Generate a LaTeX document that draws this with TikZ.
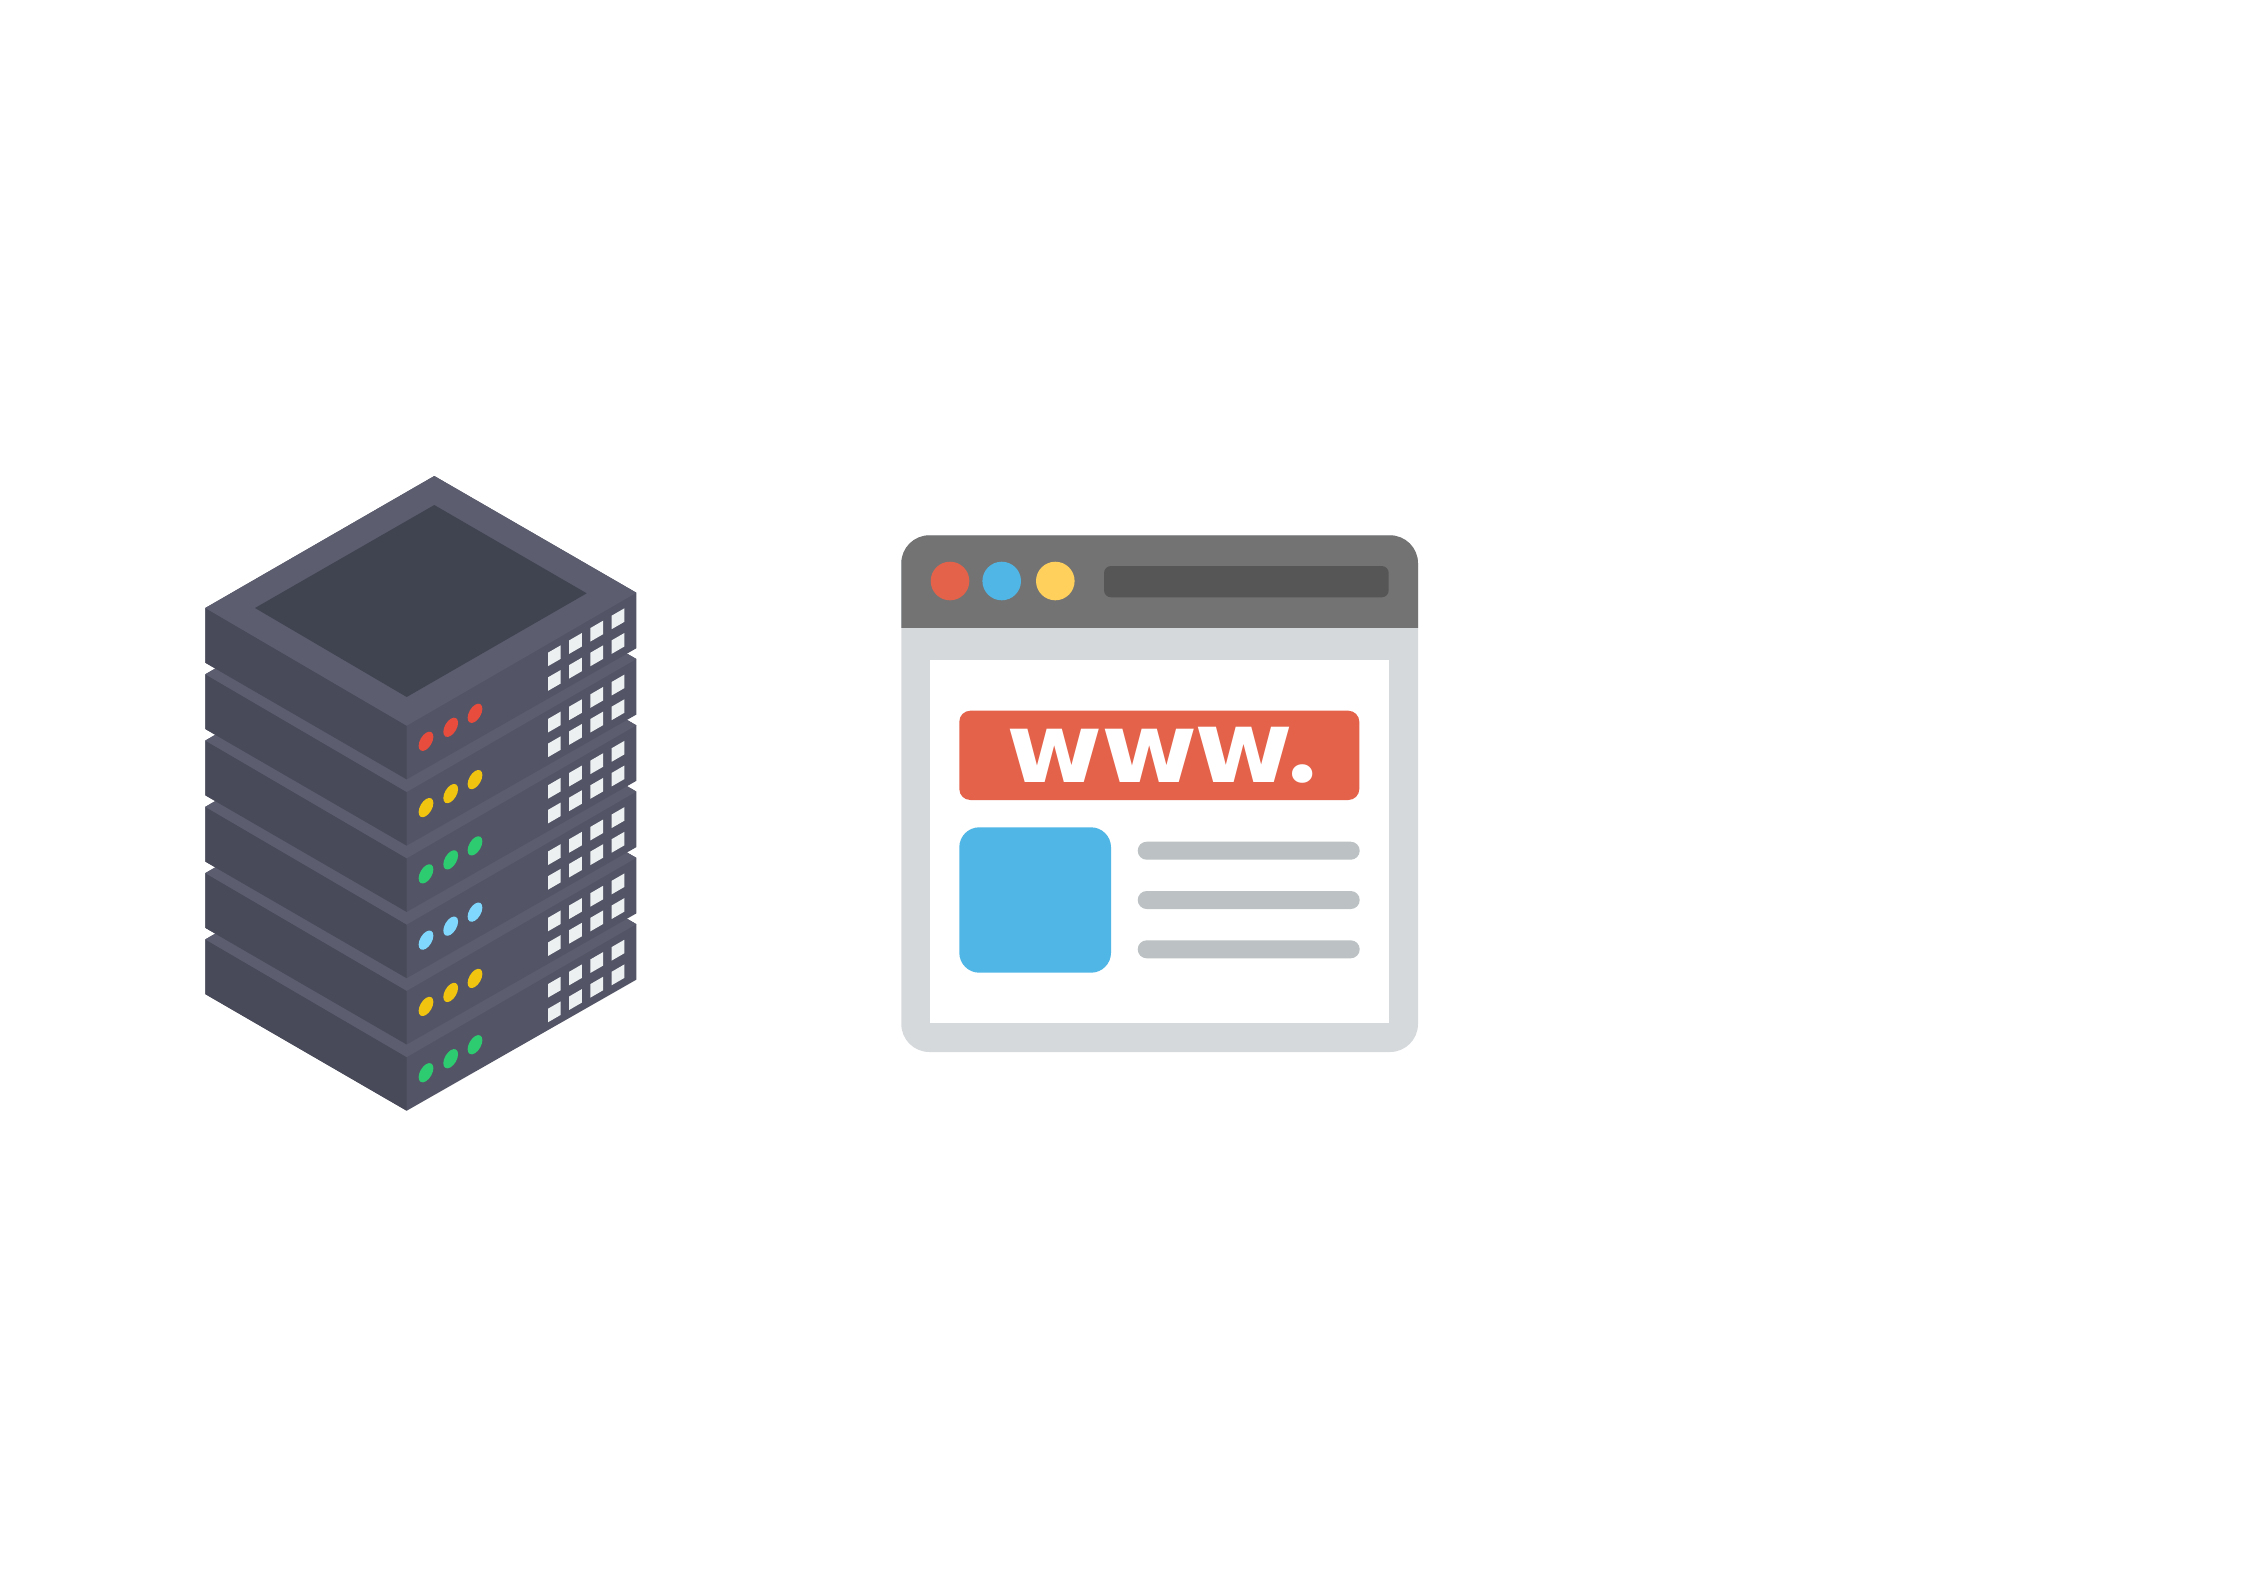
\documentclass[tikz,border=0pt]{standalone}
\usepackage{fontspec}
\setmainfont{DejaVu Sans}
\newfontfamily\dotfont{Poppins}
\definecolor{srvtop}{HTML}{5C5E70}
\definecolor{srvleft}{HTML}{484A59}
\definecolor{srvright}{HTML}{535566}
\definecolor{srvinner}{HTML}{404350}
\definecolor{srvport}{HTML}{ECF0F1}
\definecolor{ledred}{HTML}{E84C3D}
\definecolor{ledyellow}{HTML}{F1C40F}
\definecolor{ledgreen}{HTML}{2ECC71}
\definecolor{ledblue}{HTML}{80D8FF}
\definecolor{winhead}{HTML}{737373}
\definecolor{winbar}{HTML}{565656}
\definecolor{winbody}{HTML}{D5D9DC}
\definecolor{winred}{HTML}{E5624A}
\definecolor{winblue}{HTML}{4FB6E6}
\definecolor{winyellow}{HTML}{FFD15C}
\definecolor{winline}{HTML}{BCC1C3}
\tikzset{
  led/.style={fill=#1},
  portbox/.style={fill=srvport},
  textline/.style={fill=winline, rounded corners=9pt},
  winbutton/.style={fill=#1},
}
\begin{document}
\begin{tikzpicture}[x=1pt,y=-1pt]
\useasboundingbox (0,0) rectangle (2245,1587);
% server stack, painted bottom to top
\foreach \i/\c in {5/ledgreen,4/ledyellow,3/ledblue,2/ledgreen,1/ledyellow,0/ledred}{
  \begin{scope}[shift={(0,\i*66.28)}]
    \fill[srvright] (434.3,476) -- (636.3,592.7) -- (636.3,648.3) -- (406.7,779.3) -- (205.3,662.7) -- (205.3,608) -- cycle;
    \fill[srvleft] (205.3,608) -- (406.7,725.7) -- (406.7,779.3) -- (205.3,662.7) -- cycle;
    \fill[srvtop] (434.3,476) -- (636.3,592.7) -- (406.7,725.7) -- (205.3,608) -- cycle;
    \foreach \px/\py in {426/741.3,450.7/727.3,475/713.3}{
      \fill[led=\c] (\px,\py) circle[x radius=10.6,y radius=5.9,rotate=60];
    }
    \foreach \col in {0,1,2,3}{
      \foreach \row in {0,1}{
        \pgfmathsetmacro{\xa}{548+\col*21.22}
        \pgfmathsetmacro{\ya}{652.67-\col*12.33+\row*24.67}
        \fill[portbox] (\xa,\ya) -- ++(12.67,-7.33) -- ++(0,13.5) -- ++(-12.67,7.33) -- cycle;
      }
    }
  \end{scope}
}
\fill[srvinner] (434.3,505) -- (586.7,593.3) -- (406.7,697) -- (255,608) -- cycle;
% browser window
\fill[winbody,rounded corners=28pt] (901.3,535.3) rectangle (1418,1052);
\begin{scope}
  \clip (895,530) rectangle (1425,627.3);
  \fill[winhead,rounded corners=28pt] (901.3,535.3) rectangle (1418,1052);
\end{scope}
\fill[white] (930.3,660.3) rectangle (1388.7,1022.7);
\fill[winbutton=winred] (950,581) circle[radius=19.3];
\fill[winbutton=winblue] (1001.7,581) circle[radius=19.3];
\fill[winbutton=winyellow] (1055.3,581) circle[radius=19.3];
\fill[winbar,rounded corners=7pt] (1104,566) rectangle (1388.7,597.3);
\fill[winred,rounded corners=11pt] (959.3,710.7) rectangle (1359.3,800);
\node[anchor=base west,inner sep=0pt,text=white,font=\fontsize{97.5}{97.5}\selectfont\bfseries] (wwwlabel) at (1006.5,782.3)
  {\scalebox{1.07}[1]{w}\kern-1.7pt\scalebox{1.07}[1]{w}\kern-3.4pt\scalebox{1.098}[1.037]{w}\kern-5pt{\dotfont\fontsize{100}{100}\selectfont .}};
\fill[winblue,rounded corners=20pt] (959.3,827.3) rectangle (1111,972.7);
\fill[textline] (1137.7,841.7) rectangle (1359.7,859.7);
\fill[textline] (1137.7,891) rectangle (1359.7,909);
\fill[textline] (1137.7,940.3) rectangle (1359.7,958.3);
\end{tikzpicture}
\end{document}
